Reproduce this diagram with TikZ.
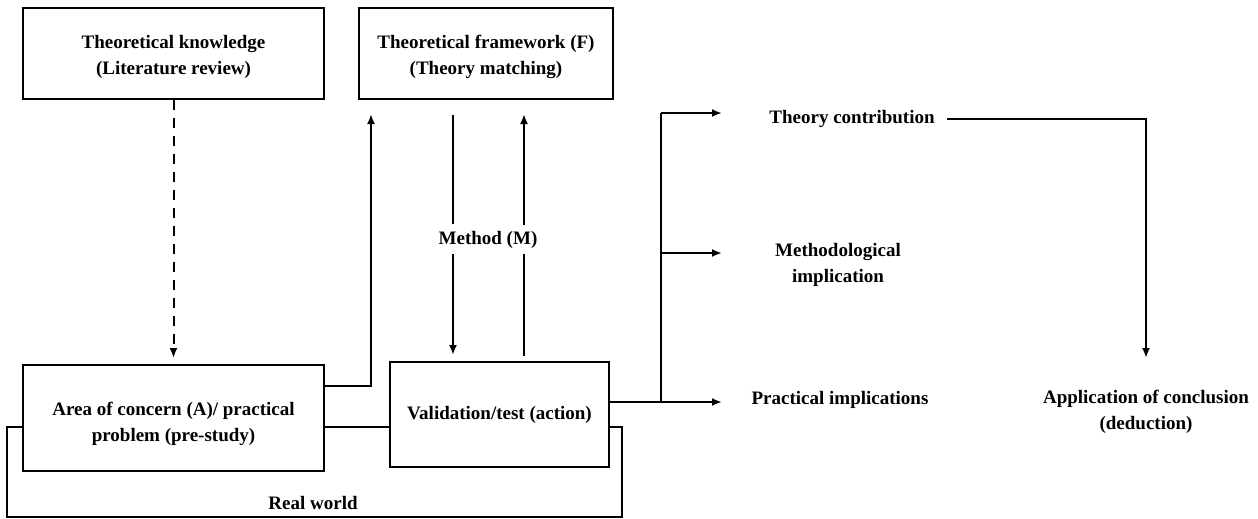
\documentclass[tikz,border=0pt]{standalone}
\usepackage{fontspec}
\setmainfont{Liberation Serif}
\usetikzlibrary{arrows.meta,calc}
% a strut that lowers two-line box texts a little
\newcommand{\toplift}[1]{\rule{0pt}{#1}}
\begin{document}
\begin{tikzpicture}[x=1pt,y=-1pt,
  every node/.style={font=\fontsize{19}{26}\selectfont\bfseries, align=center, inner sep=0pt},
  box/.style={draw, line width=2pt},
  wire/.style={line width=2pt},
  arr/.style={wire, -{Latex[length=10pt,width=8pt]}},
  dashedarr/.style={arr, dash pattern=on 10pt off 8pt},
]
\useasboundingbox (0,0) rectangle (1258,519);

% boxes
\node[box, minimum width=301pt, minimum height=91pt] (tk) at (173.5,53.5)
  {\toplift{20pt}Theoretical knowledge\\(Literature review)};
\node[box, minimum width=254pt, minimum height=91pt] (tf) at (486,53.5)
  {\toplift{20pt}Theoretical framework (F)\\(Theory matching)};
\node[box, minimum width=301pt, minimum height=106pt] (ac) at (173.5,418)
  {\toplift{26pt}Area of concern (A)/ practical\\problem (pre-study)};
\node[box, minimum width=219pt, minimum height=105pt] (vt) at (499.5,414.5)
  {Validation/test (action)};

% free labels
\node (meth) at (488,240) {Method (M)};
\node (rw) at (313,503) {Real world};
\node (tc) at (852,119) {Theory contribution};
\node (mi) at (838,265) {Methodological\\implication};
\node (pi) at (840,400) {Practical implications};
\node (app) at (1146,412) {Application of conclusion\\(deduction)};

% free ends of connectors
\coordinate (fUp) at (371,114);
\coordinate (mDa) at (453,115);
\coordinate (mDb) at (453,224);
\coordinate (mDc) at (453,254);
\coordinate (mDd) at (453,355);
\coordinate (mUa) at (524,356);
\coordinate (mUb) at (524,254);
\coordinate (mUc) at (524,225);
\coordinate (mUd) at (524,114);
\coordinate (hub) at (661,402);
\coordinate (hubMid) at (661,253);
\coordinate (hubTop) at (661,113);
\coordinate (appIn) at (1146,358);
\coordinate (rwL) at (7,517);
\coordinate (rwR) at (622,517);

% literature feeds the problem area
\draw[dashedarr] (tk.south) -- ($(ac.north)+(0,-6)$);

% problem area up to the framework
\draw[arr] ($(ac.north east)+(0,22)$) -| (fUp);

% method loop between framework and validation
\draw[wire] (mDa) -- (mDb);
\draw[arr] (mDc) -- (mDd);
\draw[wire] (mUa) -- (mUb);
\draw[arr] (mUc) -- (mUd);

% real world frame
\draw[wire] ($(ac.west)+(0,9)$) -| (rwL) -- (rwR) |- ($(vt.east)+(0,12.5)$);
\draw[wire] ($(ac.east)+(0,9)$) -- ($(vt.west)+(0,12.5)$);

% outcomes
\draw[wire] ($(vt.east)+(0,-12.5)$) -- (hub) -- (hubTop);
\draw[arr] (hubTop) -- ++(61,0);
\draw[arr] (hubMid) -- ++(61,0);
\draw[arr] (hub) -- ++(61,0);

% contribution to application
\draw[arr] ([xshift=12pt]tc.east) -| (appIn);
\end{tikzpicture}
\end{document}
